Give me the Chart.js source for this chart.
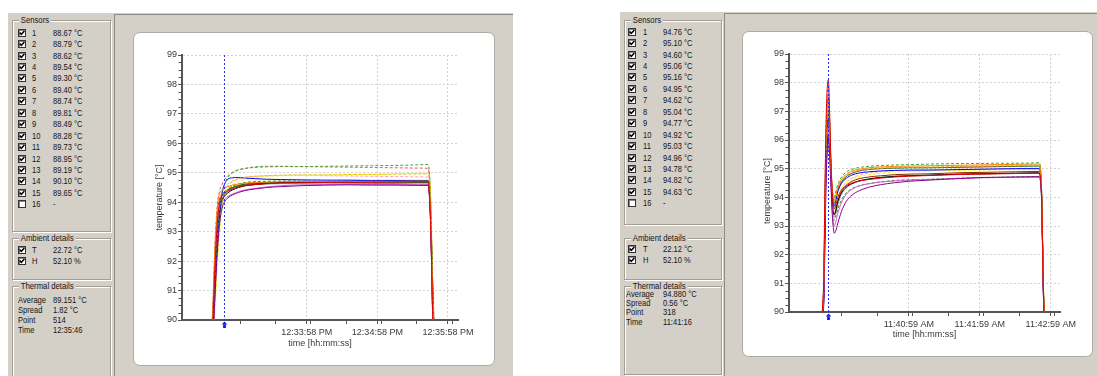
<!DOCTYPE html>
<html>
<head>
<meta charset="utf-8">
<title>Thermal profile</title>
<script src="https://cdn.jsdelivr.net/npm/chart.js@4.4.0/dist/chart.umd.min.js"></script>
<style>
  html, body { margin: 0; padding: 0; background: #fff; }
  body {
    width: 1097px; height: 376px; position: relative; overflow: hidden;
    font-family: "Liberation Sans Narrow", "Arial Narrow", "Liberation Sans", Arial, sans-serif;
    font-size: 9px; color: #151515;
  }
  .win { position: absolute; background: #d4d0c8; overflow: hidden; }
  .main { position: absolute; background: #d4d0c8; border-top: 1px solid #8e8b85; border-left: 1px solid #8e8b85; }
  .grp { position: absolute; border: 1px solid #a29e96; box-shadow: inset 1px 1px 0 #fff, 1px 1px 0 #fff; }
  .cap { position: absolute; top: -6px; left: 6px; padding: 0 2px; background: #d4d0c8; line-height: 11px;
         white-space: nowrap; transform: scaleX(0.86); transform-origin: 0 0; }
  .txt { position: absolute; height: 10px; line-height: 10px; white-space: nowrap;
         transform: scaleX(0.84); transform-origin: 0 0; }
  .cb { position: absolute; width: 6px; height: 6px; border: 1px solid #333; background: #fff;
        box-shadow: inset 1px 1px 0 #888; }
  .cb svg { position: absolute; left: 0; top: 0; }
  .panel { position: absolute; background: #fff; border: 1px solid #b0aca5; border-radius: 7px; box-sizing: border-box; }
  canvas.plot { position: absolute; }
</style>
</head>
<body>
<div class="win" id="winL" style="left:8px;top:13px;width:505px;height:363px;">
  <div class="main" style="left:106px;top:1px;width:399px;height:362px;"></div>
</div>
<div class="win" id="winR" style="left:620px;top:12px;width:477px;height:364px;">
  <div class="main" style="left:104px;top:1px;width:373px;height:363px;"></div>
</div>
<div class="panel" style="left:133px;top:32px;width:362px;height:334px;"></div>
<div class="panel" style="left:742px;top:31px;width:351px;height:326px;"></div>
<canvas class="plot" id="chartL" width="362" height="334" style="left:133px;top:32px;width:362px;height:334px;"></canvas>
<canvas class="plot" id="chartR" width="351" height="326" style="left:742px;top:31px;width:351px;height:326px;"></canvas>

<script>
// ---------- sensor colours and line styles ----------
const sensorColors = ['#e00000', '#ff8000', '#8b008b', '#e0c000', '#3aa83a', '#0000ff', '#d060d0', '#ff5050',
                      '#000000', '#ffee00', '#007000', '#ff9fb0', '#909090', '#8b2500', '#228b22'];
const dashedSensors = [4, 5, 8, 10, 12, 15];

// ---------- run A (12:3x PM) : seconds relative to 12:33:58 PM ----------
const leftBase = '12:33:58 PM';
const leftTickLabels = ['12:33:58 PM', '12:34:58 PM', '12:35:58 PM'];
const leftMinorTicks = [-57, -27, 3, 33, 63, 93, 123];
const leftRange = [-106, 128.5];
const leftCursor = -70;
const leftReadAt = 108;          // 12:35:46
const leftAmbient = ['22.72 °C', '52.10 %'];
const leftPoint = '514', leftTime = '12:35:46';
const leftT = [-84, -80, -78, -76, -74, -72, -70, -67, -63, -58, -52, -44, -34, -22, -5, 15, 35, 55, 75, 95, 103, 105, 108, 111];
const L1  = [88.4, 89.8, 91.8, 93.3, 94.0, 94.2, 94.3, 94.38, 94.45, 94.52, 94.57, 94.6, 94.63, 94.65, 94.66, 94.67, 94.68, 94.68, 94.69, 94.7, 94.7, 93.6, 88.67, 87.5];
const L2  = [88.5, 90.2, 92.4, 93.8, 94.3, 94.42, 94.48, 94.53, 94.58, 94.62, 94.65, 94.67, 94.68, 94.69, 94.7, 94.7, 94.7, 94.71, 94.71, 94.72, 94.72, 93.9, 88.79, 87.5];
const L3  = [88.2, 89.2, 90.8, 92.3, 93.3, 93.8, 94.0, 94.15, 94.25, 94.33, 94.4, 94.45, 94.5, 94.53, 94.56, 94.58, 94.59, 94.58, 94.58, 94.57, 94.57, 93.5, 88.62, 87.3];
const L4  = [88.1, 89.1, 90.6, 92.1, 93.2, 93.9, 94.3, 94.55, 94.7, 94.8, 94.85, 94.88, 94.9, 94.92, 94.93, 94.93, 94.94, 94.95, 94.95, 94.96, 94.96, 94.5, 89.54, 87.8];
const L5  = [88.3, 89.4, 91.2, 92.8, 93.8, 94.3, 94.6, 94.85, 95.0, 95.1, 95.15, 95.2, 95.22, 95.22, 95.21, 95.22, 95.23, 95.24, 95.25, 95.27, 95.28, 94.4, 89.30, 87.6];
const L6  = [88.2, 89.3, 91.0, 92.6, 93.7, 94.3, 94.6, 94.78, 94.83, 94.84, 94.82, 94.8, 94.78, 94.77, 94.76, 94.75, 94.75, 94.74, 94.74, 94.74, 94.74, 93.8, 89.40, 87.4];
const L7  = [88.4, 89.8, 91.7, 93.2, 93.8, 94.0, 94.1, 94.2, 94.28, 94.36, 94.42, 94.47, 94.52, 94.56, 94.59, 94.6, 94.6, 94.6, 94.6, 94.6, 94.6, 93.6, 88.74, 87.4];
const L8  = [88.5, 90.3, 92.6, 93.9, 94.4, 94.6, 94.75, 94.9, 95.02, 95.1, 95.15, 95.18, 95.2, 95.21, 95.21, 95.2, 95.19, 95.18, 95.17, 95.16, 95.15, 94.2, 89.81, 87.5];
const L9  = [88.3, 89.6, 91.4, 92.9, 93.7, 94.05, 94.2, 94.32, 94.42, 94.5, 94.56, 94.6, 94.64, 94.67, 94.68, 94.7, 94.71, 94.72, 94.73, 94.73, 94.73, 93.7, 88.49, 87.4];
const L10 = [88.1, 89.0, 90.4, 91.8, 93.0, 93.8, 94.2, 94.45, 94.6, 94.7, 94.78, 94.84, 94.88, 94.9, 94.91, 94.92, 94.93, 94.94, 94.97, 94.98, 94.98, 94.2, 88.28, 87.7];
const L11 = [88.2, 89.2, 90.9, 92.5, 93.5, 94.0, 94.25, 94.4, 94.5, 94.57, 94.62, 94.65, 94.67, 94.68, 94.68, 94.67, 94.66, 94.65, 94.65, 94.66, 94.66, 94.0, 89.73, 87.6];
const L12 = [88.4, 89.9, 92.0, 93.5, 94.1, 94.35, 94.5, 94.62, 94.72, 94.8, 94.85, 94.88, 94.9, 94.91, 94.91, 94.9, 94.89, 94.88, 94.87, 94.86, 94.85, 93.9, 88.95, 87.5];
const L13 = [88.3, 89.7, 91.6, 93.1, 93.9, 94.2, 94.32, 94.4, 94.47, 94.53, 94.57, 94.6, 94.62, 94.63, 94.63, 94.62, 94.62, 94.61, 94.61, 94.61, 94.61, 93.6, 89.19, 87.4];
const L14 = [88.5, 90.1, 92.2, 93.6, 94.1, 94.25, 94.35, 94.43, 94.5, 94.55, 94.6, 94.63, 94.65, 94.66, 94.67, 94.67, 94.67, 94.68, 94.68, 94.68, 94.68, 93.7, 90.10, 87.4];
const L15 = [88.3, 89.5, 91.3, 92.8, 93.7, 94.1, 94.3, 94.45, 94.55, 94.62, 94.67, 94.7, 94.71, 94.72, 94.72, 94.71, 94.71, 94.7, 94.7, 94.7, 94.7, 93.8, 89.65, 87.5];

// ---------- run B (11:4x AM) : seconds relative to 11:40:59 AM ----------
const rightBase = '11:40:59 AM';
const rightTickLabels = ['11:40:59 AM', '11:41:59 AM', '11:42:59 AM'];
const rightMinorTicks = [-57, -27, 3, 33, 63, 93, 123];
const rightRange = [-101.3, 127.8];
const rightCursor = -68;
const rightReadAt = 17;          // 11:41:16
const rightAmbient = ['22.12 °C', '52.10 %'];
const rightPoint = '318', rightTime = '11:41:16';
const rightT = [-76, -72, -71, -70, -69, -68, -67, -66, -65, -64, -63, -62, -60, -57, -53, -48, -42, -34, -24, -12, 0, 17, 30, 45, 60, 75, 90, 105, 110, 112, 114, 117];
const R1  = [89.3, 91.0, 94.0, 96.5, 97.8, 98.1, 97.0, 95.5, 94.4, 93.8, 93.6, 93.7, 94.0, 94.25, 94.4, 94.5, 94.57, 94.62, 94.67, 94.71, 94.74, 94.76, 94.78, 94.8, 94.81, 94.82, 94.83, 94.84, 94.84, 94.3, 90.4, 88.0];
const R2  = [89.2, 90.8, 93.6, 96.0, 97.1, 97.4, 96.6, 95.3, 94.4, 94.0, 93.9, 94.05, 94.35, 94.62, 94.8, 94.92, 94.98, 95.03, 95.06, 95.08, 95.09, 95.10, 95.11, 95.12, 95.13, 95.14, 95.15, 95.16, 95.16, 94.5, 90.6, 88.0];
const R3  = [89.0, 90.2, 92.2, 94.5, 95.6, 96.0, 95.5, 94.6, 93.6, 93.0, 92.75, 92.8, 93.1, 93.5, 93.85, 94.08, 94.23, 94.35, 94.44, 94.51, 94.56, 94.60, 94.63, 94.66, 94.69, 94.7, 94.71, 94.72, 94.72, 94.2, 90.2, 87.9];
const R4  = [89.2, 90.7, 93.4, 95.8, 96.9, 97.2, 96.4, 95.1, 94.3, 93.9, 93.8, 93.95, 94.3, 94.58, 94.76, 94.88, 94.95, 94.99, 95.02, 95.04, 95.05, 95.06, 95.07, 95.08, 95.09, 95.1, 95.1, 95.11, 95.11, 94.4, 90.5, 88.0];
const R5  = [89.2, 90.6, 93.2, 95.6, 96.7, 97.0, 96.3, 95.2, 94.4, 94.1, 94.0, 94.15, 94.45, 94.7, 94.88, 94.98, 95.04, 95.08, 95.11, 95.13, 95.14, 95.16, 95.17, 95.18, 95.18, 95.19, 95.19, 95.2, 95.21, 94.6, 90.5, 88.0];
const R6  = [89.1, 90.4, 92.8, 95.0, 95.9, 96.2, 95.8, 95.2, 94.3, 93.8, 93.7, 93.85, 94.2, 94.48, 94.66, 94.78, 94.85, 94.89, 94.92, 94.94, 94.95, 94.95, 94.96, 94.97, 94.98, 94.99, 95.0, 95.0, 95.0, 94.4, 90.4, 88.0];
const R7  = [89.0, 90.3, 92.5, 94.8, 96.0, 96.5, 96.0, 94.9, 93.8, 93.2, 93.0, 93.1, 93.45, 93.8, 94.1, 94.28, 94.4, 94.47, 94.53, 94.57, 94.6, 94.62, 94.64, 94.66, 94.68, 94.69, 94.7, 94.7, 94.7, 94.1, 90.2, 87.9];
const R8  = [89.3, 91.0, 93.9, 96.3, 97.6, 97.9, 96.9, 95.4, 94.4, 94.0, 93.9, 94.0, 94.3, 94.55, 94.73, 94.85, 94.93, 94.98, 95.01, 95.03, 95.04, 95.04, 95.05, 95.07, 95.08, 95.09, 95.1, 95.12, 95.12, 94.5, 90.5, 88.0];
const R9  = [89.1, 90.5, 93.0, 95.3, 96.4, 96.8, 96.1, 95.0, 94.0, 93.5, 93.4, 93.5, 93.85, 94.15, 94.35, 94.48, 94.57, 94.64, 94.69, 94.73, 94.75, 94.77, 94.79, 94.81, 94.82, 94.83, 94.84, 94.85, 94.85, 94.3, 90.4, 88.0];
const R10 = [89.0, 90.2, 92.6, 94.9, 95.9, 96.3, 95.7, 94.8, 94.0, 93.7, 93.6, 93.7, 94.0, 94.3, 94.5, 94.63, 94.72, 94.79, 94.84, 94.88, 94.9, 94.92, 94.93, 94.94, 94.95, 94.96, 94.97, 94.98, 94.98, 94.4, 90.6, 88.0];
const R11 = [89.2, 90.8, 93.5, 95.9, 97.1, 97.5, 96.7, 95.3, 94.3, 93.9, 93.8, 93.9, 94.25, 94.53, 94.72, 94.84, 94.92, 94.97, 95.0, 95.02, 95.03, 95.03, 95.04, 95.05, 95.06, 95.07, 95.08, 95.09, 95.09, 94.5, 90.5, 88.0];
const R12 = [89.1, 90.6, 93.1, 95.4, 96.5, 96.9, 96.2, 95.0, 94.0, 93.6, 93.5, 93.6, 93.95, 94.3, 94.52, 94.67, 94.77, 94.84, 94.89, 94.93, 94.95, 94.96, 94.97, 94.98, 94.99, 95.0, 95.01, 95.02, 95.02, 94.4, 90.4, 88.0];
const R13 = [89.0, 90.3, 92.4, 94.6, 95.5, 95.8, 95.4, 94.7, 93.9, 93.4, 93.3, 93.4, 93.75, 94.1, 94.32, 94.47, 94.57, 94.64, 94.7, 94.74, 94.76, 94.78, 94.8, 94.81, 94.82, 94.83, 94.84, 94.85, 94.85, 94.3, 90.3, 88.0];
const R14 = [89.2, 90.7, 93.2, 95.5, 96.6, 97.0, 96.3, 95.1, 94.0, 93.5, 93.4, 93.5, 93.9, 94.2, 94.42, 94.56, 94.65, 94.71, 94.75, 94.79, 94.81, 94.82, 94.84, 94.86, 94.87, 94.88, 94.89, 94.9, 94.9, 94.3, 90.4, 88.0];
const R15 = [89.1, 90.4, 92.8, 95.1, 96.1, 96.4, 95.8, 94.8, 93.8, 93.3, 93.2, 93.3, 93.6, 93.9, 94.15, 94.3, 94.4, 94.48, 94.54, 94.59, 94.61, 94.63, 94.65, 94.67, 94.69, 94.7, 94.71, 94.72, 94.73, 94.2, 90.3, 87.9];

const leftSeries = [L1, L2, L3, L4, L5, L6, L7, L8, L9, L10, L11, L12, L13, L14, L15];
const rightSeries = [R1, R2, R3, R4, R5, R6, R7, R8, R9, R10, R11, R12, R13, R14, R15];

// ---------- helpers ----------
function toSec(label) {
  const [hms, ap] = label.split(' ');
  let [h, m, s] = hms.split(':').map(Number);
  if (ap === 'PM' && h !== 12) h += 12;
  if (ap === 'AM' && h === 12) h = 0;
  return h * 3600 + m * 60 + s;
}

const CHECK = '<svg width="6" height="6" viewBox="0 0 6 6"><path d="M0.6 2.6 L2.3 4.3 L5.4 1.0" stroke="#000" stroke-width="1.5" fill="none"/></svg>';

function el(parent, cls, style, html) {
  const d = document.createElement('div');
  d.className = cls;
  Object.assign(d.style, style);
  if (html !== undefined) d.innerHTML = html;
  parent.appendChild(d);
  return d;
}

// side panel with sensor readings, ambient and thermal details
function buildSidebar(win, L, series, times, readAt, ambient, point, time) {
  const idx = times.indexOf(readAt);
  const readings = series.map(s => s[idx]);
  const g1 = el(win, 'grp', {left: L.box + 'px', top: L.sTop + 'px', width: L.boxW + 'px', height: L.sH + 'px'});
  el(g1, 'cap', {}, 'Sensors');
  for (let i = 0; i < 16; i++) {
    const cy = L.row0 + L.dy * i;
    el(win, 'cb', {left: L.cbX + 'px', top: (cy - 4) + 'px'}, i < 15 ? CHECK : '');
    el(win, 'txt', {left: L.numX + 'px', top: (cy - 5) + 'px'}, String(i + 1));
    el(win, 'txt', {left: L.valX + 'px', top: (cy - 5) + 'px'}, i < 15 ? readings[i].toFixed(2) + ' °C' : '-');
  }
  const g2 = el(win, 'grp', {left: L.box + 'px', top: L.aTop + 'px', width: L.boxW + 'px', height: '40px'});
  el(g2, 'cap', {}, 'Ambient details');
  [['T', ambient[0]], ['H', ambient[1]]].forEach((r, k) => {
    const cy = L.aRow0 + L.aDy * k;
    el(win, 'cb', {left: L.cbX + 'px', top: (cy - 4) + 'px'}, CHECK);
    el(win, 'txt', {left: L.numX + 'px', top: (cy - 5) + 'px'}, r[0]);
    el(win, 'txt', {left: L.valX + 'px', top: (cy - 5) + 'px'}, r[1]);
  });
  const g3 = el(win, 'grp', {left: L.box + 'px', top: L.tTop + 'px', width: L.boxW + 'px', height: L.tH + 'px'});
  el(g3, 'cap', {}, 'Thermal details');
  const avg = readings.reduce((a, b) => a + b, 0) / readings.length;
  const spread = Math.max(...readings) - Math.min(...readings);
  [['Average', avg.toFixed(3) + ' °C'], ['Spread', spread.toFixed(2) + ' °C'], ['Point', point], ['Time', time]].forEach((r, k) => {
    const cy = L.tRow0 + L.tDy * k;
    el(win, 'txt', {left: L.tLabX + 'px', top: (cy - 5) + 'px'}, r[0]);
    el(win, 'txt', {left: L.valX + 'px', top: (cy - 5) + 'px'}, r[1]);
  });
}

buildSidebar(document.getElementById('winL'),
  {box: 4, boxW: 97, sTop: 7, sH: 210, row0: 19.7, dy: 11.44, cbX: 10, numX: 24, valX: 45,
   aTop: 225, aRow0: 237, aDy: 11, tTop: 273, tH: 100, tRow0: 286.5, tDy: 10, tLabX: 10},
  leftSeries, leftT, leftReadAt, leftAmbient, leftPoint, leftTime);
buildSidebar(document.getElementById('winR'),
  {box: 4, boxW: 96, sTop: 8, sH: 203, row0: 19.7, dy: 11.44, cbX: 8, numX: 23, valX: 43,
   aTop: 225.7, aRow0: 237.3, aDy: 10.7, tTop: 274, tH: 87, tRow0: 281.8, tDy: 9.3, tLabX: 6},
  rightSeries, rightT, rightReadAt, rightAmbient, rightPoint, rightTime);

// ---------- chart decorations: minor ticks, y caption, cursor line and marker ----------
const decor = {
  id: 'decor',
  afterDatasetsDraw(chart, args, opts) {
    const {ctx, chartArea: a, scales: {x, y}} = chart;
    ctx.save();
    ctx.strokeStyle = '#555';
    ctx.lineWidth = 1;
    for (let v = 90.25; v < 99; v += 0.25) {
      if (Number.isInteger(v)) continue;
      const py = Math.round(y.getPixelForValue(v)) + 0.5;
      ctx.beginPath(); ctx.moveTo(a.left - 3.5, py); ctx.lineTo(a.left, py); ctx.stroke();
    }
    opts.minor.forEach(t => {
      const px = Math.round(x.getPixelForValue(t)) + 0.5;
      ctx.beginPath(); ctx.moveTo(px, a.bottom); ctx.lineTo(px, a.bottom + 4); ctx.stroke();
    });
    // vertical axis caption
    ctx.save();
    ctx.translate(opts.captionX, (a.top + a.bottom) / 2 + opts.captionDy);
    ctx.rotate(-Math.PI / 2);
    ctx.fillStyle = '#3a3a3a';
    ctx.font = '9px ' + Chart.defaults.font.family;
    ctx.textAlign = 'center';
    ctx.textBaseline = 'middle';
    ctx.fillText('temperature [°C]', 0, 0);
    ctx.restore();
    // cursor
    const cx = Math.round(x.getPixelForValue(opts.cursor)) + 0.5;
    ctx.strokeStyle = '#2a2aff';
    ctx.setLineDash([2, 2]);
    ctx.beginPath(); ctx.moveTo(cx, a.top); ctx.lineTo(cx, a.bottom); ctx.stroke();
    ctx.setLineDash([]);
    ctx.fillStyle = '#1010ff';
    const b = a.bottom;
    ctx.beginPath();
    ctx.moveTo(cx, b + 1.5); ctx.lineTo(cx - 2.8, b + 4.5); ctx.lineTo(cx + 2.8, b + 4.5); ctx.closePath();
    ctx.fill();
    ctx.fillRect(cx - 1.4, b + 4.5, 2.8, 3.5);
    ctx.restore();
  }
};

Chart.defaults.font.family = '"Liberation Sans Narrow", "Arial Narrow", "Liberation Sans", Arial, sans-serif';
Chart.defaults.font.size = 9;

function makeChart(id, c) {
  const base = toSec(c.base);
  const tickVals = c.labels.map(s => toSec(s) - base);
  const datasets = c.series.map((vals, i) => ({
    label: 'Sensor ' + (i + 1),
    data: c.times.map((t, k) => ({x: t, y: vals[k]})),
    borderColor: sensorColors[i],
    borderWidth: 1,
    borderDash: dashedSensors.includes(i + 1) ? [3, 2] : [],
    pointRadius: 0,
    cubicInterpolationMode: 'monotone',
    fill: false
  }));
  const gridOpts = {color: '#d2d2d2', lineWidth: 1, tickLength: 4, tickColor: '#555', tickWidth: 1};
  const borderOpts = {display: true, color: '#555', width: 2, dash: [2, 2]};
  const textColor = '#3a3a3a';
  return new Chart(document.getElementById(id), {
    type: 'line',
    data: {datasets},
    options: {
      responsive: false, animation: false, devicePixelRatio: 1, events: [],
      layout: {padding: {top: c.padTop, right: c.padRight, left: 0, bottom: 0}},
      plugins: {legend: {display: false}, tooltip: {enabled: false},
                decor: {minor: c.minor, cursor: c.cursor, captionX: c.captionX, captionDy: c.captionDy}},
      scales: {
        x: {
          type: 'linear', min: c.range[0], max: c.range[1],
          afterBuildTicks: sc => { sc.ticks = tickVals.map(v => ({value: v})); },
          afterFit: sc => { sc.height = c.xHeight; },
          ticks: {autoSkip: false, maxRotation: 0, padding: 3, color: textColor,
                  callback: (v, i) => c.labels[i]},
          grid: gridOpts, border: borderOpts,
          title: {display: true, text: 'time [hh:mm:ss]', color: textColor, padding: {top: 0, bottom: 17}}
        },
        y: {
          type: 'linear', min: 90, max: 99,
          afterFit: sc => { sc.width = c.yWidth; },
          ticks: {stepSize: 1, padding: 1, color: textColor},
          grid: gridOpts, border: borderOpts,
          title: {display: false}
        }
      }
    },
    plugins: [decor]
  });
}

makeChart('chartL', {base: leftBase, labels: leftTickLabels, minor: leftMinorTicks, range: leftRange,
  cursor: leftCursor, times: leftT, series: leftSeries,
  padTop: 23, padRight: 37, xHeight: 46, yWidth: 49, captionX: 27, captionDy: 10});
makeChart('chartR', {base: rightBase, labels: rightTickLabels, minor: rightMinorTicks, range: rightRange,
  cursor: rightCursor, times: rightT, series: rightSeries,
  padTop: 23, padRight: 33, xHeight: 45, yWidth: 47, captionX: 26, captionDy: 8});
</script>
</body>
</html>
